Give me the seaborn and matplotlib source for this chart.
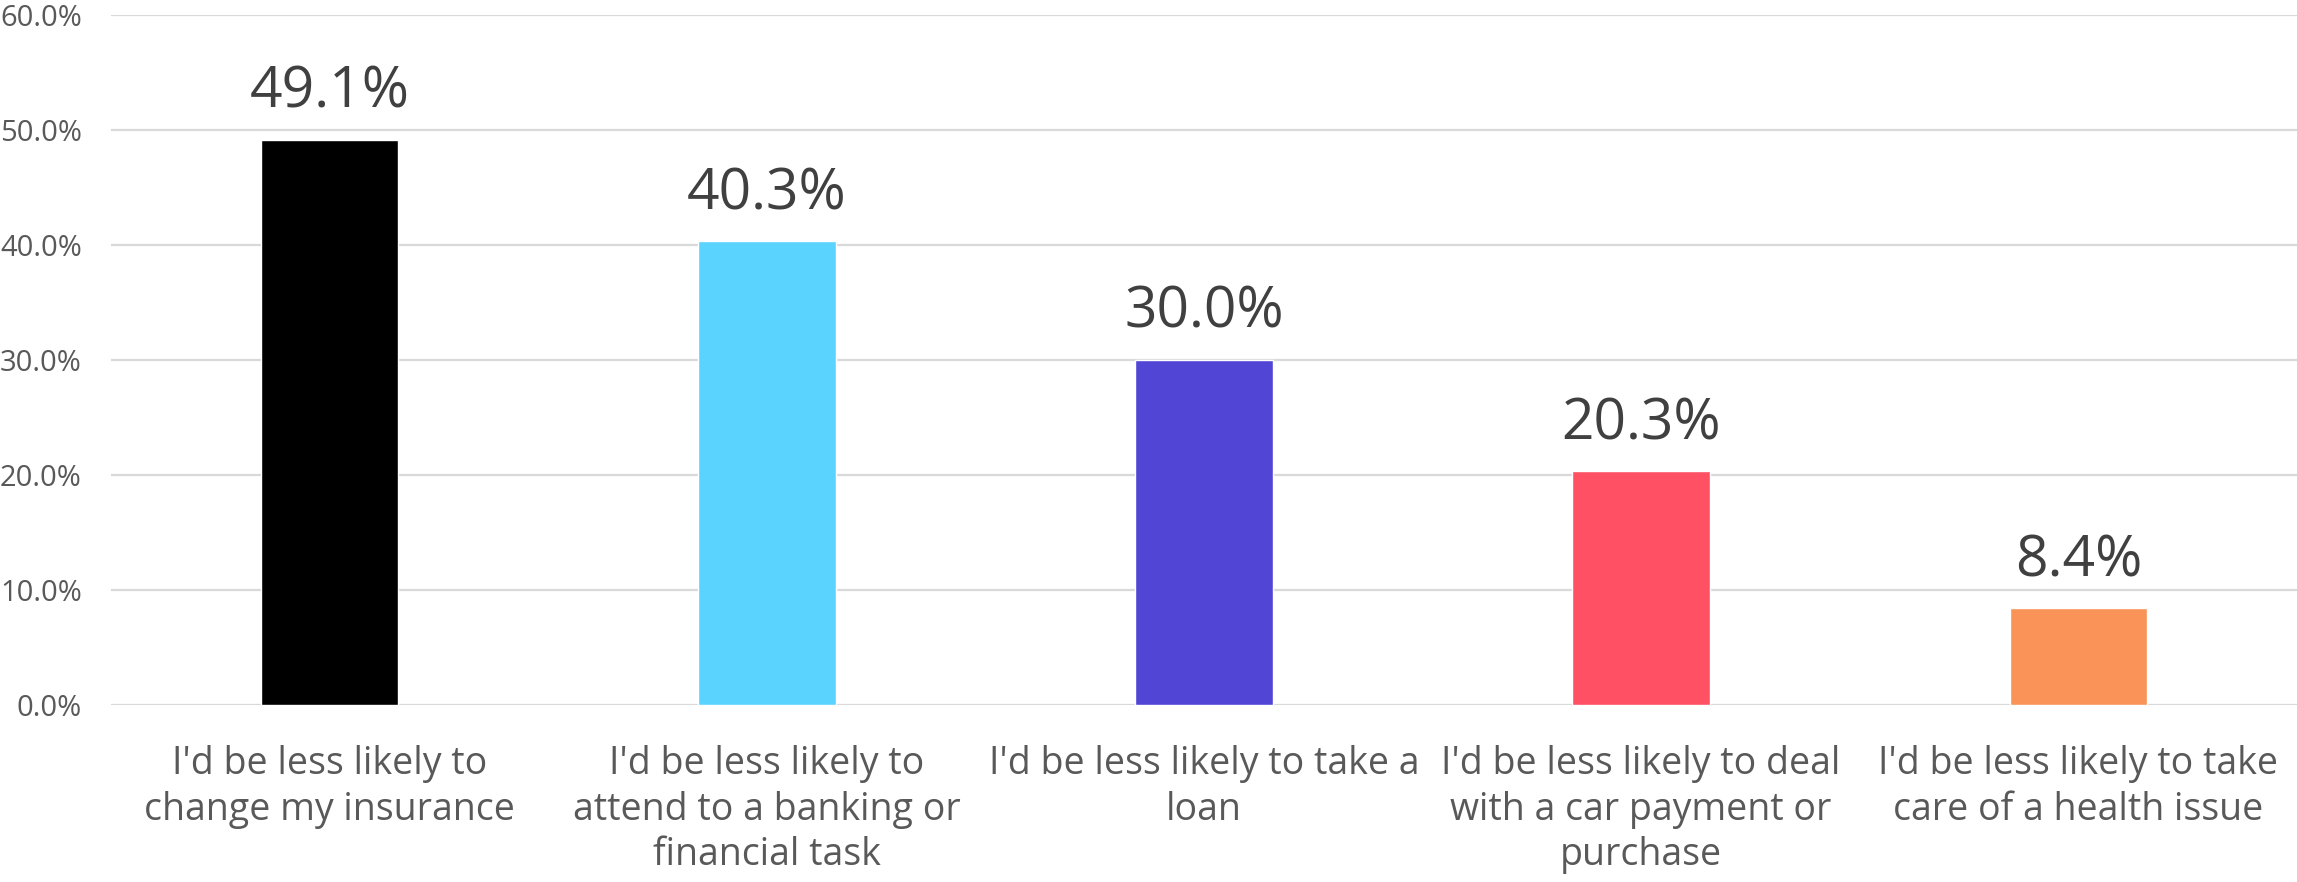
import matplotlib
matplotlib.use("Agg")
import matplotlib.pyplot as plt
import seaborn as sns
import pandas as pd
from matplotlib.ticker import FuncFormatter

# Survey responses: share of respondents for each statement (%)
categories = [
    "I'd be less likely to\nchange my insurance",
    "I'd be less likely to\nattend to a banking or\nfinancial task",
    "I'd be less likely to take a\nloan",
    "I'd be less likely to deal\nwith a car payment or\npurchase",
    "I'd be less likely to take\ncare of a health issue",
]
values = [49.1, 40.3, 30.0, 20.3, 8.4]
colors = ["#000000", "#5AD4FF", "#5145D6", "#FF5064", "#F99358"]
y_ticks = [0, 10, 20, 30, 40, 50, 60]

sns.set_theme(style="white")
plt.rcParams["font.family"] = ["Open Sans", "DejaVu Sans"]

df = pd.DataFrame({"category": categories, "value": values})

fig = plt.figure(figsize=(22.97, 8.82), dpi=100)
ax = fig.add_axes([0.0483, 0.2007, 0.9517, 0.7827])

sns.barplot(data=df, x="category", y="value", hue="category",
            palette=colors, width=0.315, saturation=1.0,
            legend=False, ax=ax, zorder=3)

ax.set_ylim(0, 60)
ax.set_yticks(y_ticks)
ax.yaxis.set_major_formatter(FuncFormatter(lambda v, _: f"{v:.1f}%"))
ax.grid(axis="y", color="#D9D9D9", linewidth=1.6, zorder=0)
ax.grid(axis="x", visible=False)
ax.set_axisbelow(True)
for side in ["top", "right", "left", "bottom"]:
    ax.spines[side].set_visible(False)

ax.set_xlabel("")
ax.set_ylabel("")
ax.tick_params(axis="y", length=0, pad=21, labelsize=21, labelcolor="#595959")
ax.tick_params(axis="x", length=0, pad=29, labelsize=27, labelcolor="#595959")
for lbl in ax.get_xticklabels():
    lbl.set_linespacing(1.25)

for container in ax.containers:
    ax.bar_label(container, fmt="%.1f%%", padding=13, fontsize=41,
                 color="#404040")

fig.savefig("out.png", dpi=100)
